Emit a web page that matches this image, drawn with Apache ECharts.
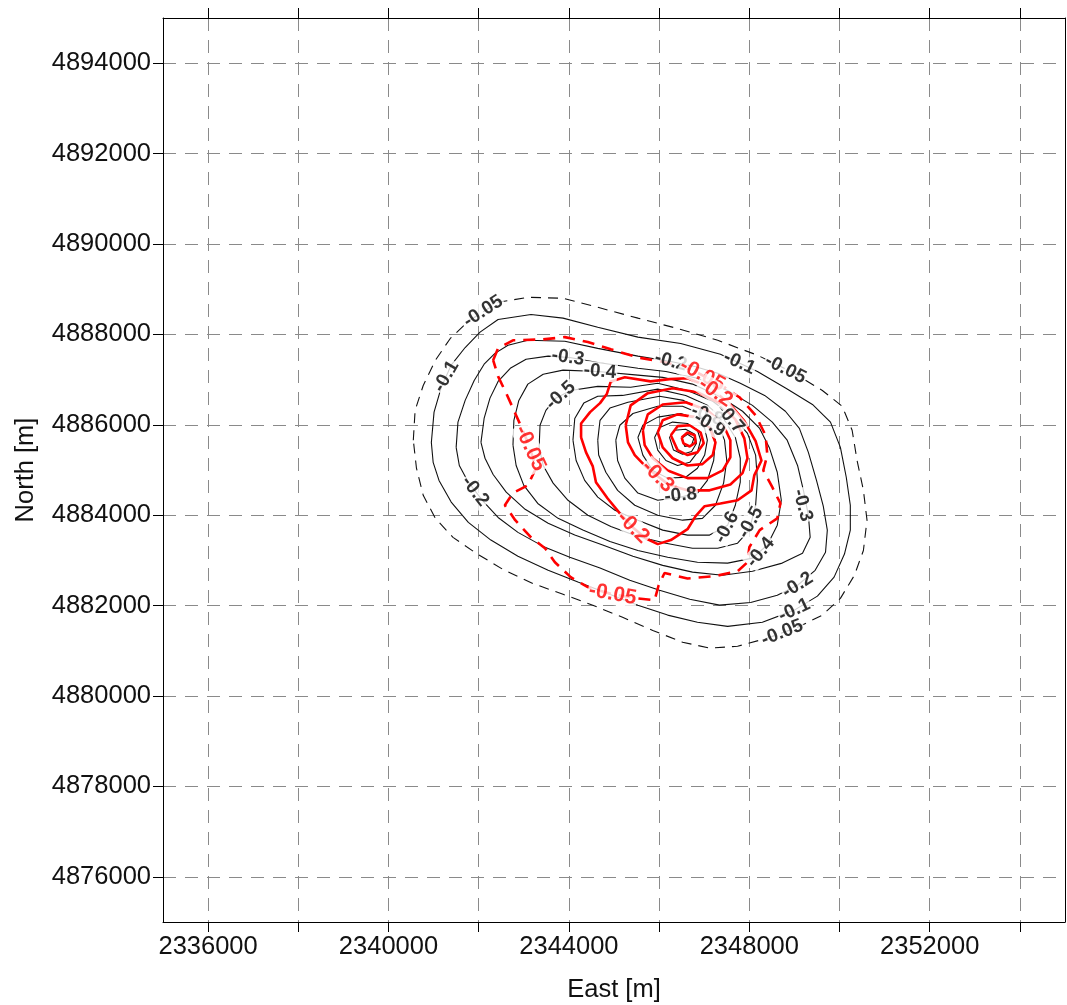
<!DOCTYPE html>
<html>
<head>
<meta charset="utf-8">
<script src="https://cdn.jsdelivr.net/npm/echarts@6/dist/echarts.min.js"></script>
<style>
  html, body { margin: 0; padding: 0; background: #fff; }
  #chart { width: 1067px; height: 1005px; }
</style>
</head>
<body>
<div id="chart"></div>
<script>
// Axis ticks and tick labels (metres)
const eastTicks = [2336000, 2338000, 2340000, 2342000, 2344000, 2346000, 2348000, 2350000, 2352000, 2354000];
const eastTickLabels = [2336000, 2340000, 2344000, 2348000, 2352000];
const northTicks = [4876000, 4878000, 4880000, 4882000, 4884000, 4886000, 4888000, 4890000, 4892000, 4894000];

// Black field: contour levels and closed contour rings [East, North]
const blackLevels = [-0.05, -0.1, -0.2, -0.3, -0.4, -0.5, -0.6, -0.7, -0.8, -0.9, -1.0, -1.1, -1.2];

const black005 = [[2340550,4885660],[2340590,4886320],[2340770,4886870],[2341040,4887430],[2341370,4887910],[2341770,4888290],[2342430,4888710],[2343090,4888820],[2343870,4888800],[2344640,4888600],[2345530,4888360],[2346410,4888130],[2347300,4887870],[2348180,4887540],[2348960,4887160],[2349620,4886760],[2350060,4886410],[2350280,4885880],[2350390,4885210],[2350530,4884550],[2350610,4883890],[2350530,4883220],[2350330,4882670],[2350020,4882160],[2349620,4881790],[2349070,4881520],[2348400,4881280],[2347740,4881100],[2347120,4881060],[2346520,4881190],[2345860,4881450],[2345190,4881740],[2344530,4882010],[2343870,4882250],[2343200,4882490],[2342540,4882800],[2341940,4883160],[2341430,4883510],[2341040,4883930],[2340770,4884440],[2340620,4885040]];
const black01 = [[2340950,4885610],[2341010,4886280],[2341170,4886830],[2341390,4887320],[2341700,4887710],[2342030,4888050],[2342430,4888330],[2343160,4888440],[2343870,4888360],[2344640,4888160],[2345530,4887940],[2346480,4887800],[2347360,4887560],[2348180,4887180],[2348840,4886790],[2349400,4886450],[2349800,4886060],[2350020,4885500],[2350150,4884840],[2350240,4884220],[2350240,4883670],[2350110,4883140],[2349880,4882630],[2349510,4882210],[2349000,4881900],[2348290,4881630],[2347520,4881540],[2346850,4881630],[2346190,4881790],[2345530,4882010],[2344860,4882270],[2344200,4882520],[2343540,4882780],[2342870,4883090],[2342270,4883450],[2341770,4883840],[2341390,4884290],[2341120,4884770],[2340990,4885170]];
const black02 = [[2341500,4885500],[2341540,4886060],[2341700,4886540],[2341900,4886980],[2342120,4887340],[2342360,4887580],[2342650,4887760],[2343090,4887870],[2343910,4887850],[2344640,4887690],[2345530,4887520],[2346260,4887400],[2346790,4887290],[2347300,4887140],[2347800,4886920],[2348340,4886650],[2348800,4886300],[2349110,4885920],[2349310,4885390],[2349490,4884770],[2349640,4884200],[2349730,4883670],[2349690,4883180],[2349460,4882780],[2349070,4882450],[2348620,4882230],[2348030,4882070],[2347340,4882010],[2346680,4882140],[2346010,4882340],[2345350,4882560],[2344690,4882830],[2344020,4883070],[2343430,4883310],[2342870,4883620],[2342430,4883950],[2342080,4884330],[2341770,4884730],[2341570,4885100]];
const black03 = [[2342050,4885610],[2342120,4886140],[2342250,4886590],[2342430,4886960],[2342700,4887250],[2343050,4887450],[2343540,4887520],[2344020,4887490],[2344640,4887380],[2345530,4887250],[2346150,4887180],[2346850,4887030],[2347520,4886760],[2348070,4886430],[2348510,4886060],[2348840,4885660],[2349070,4885100],[2349200,4884550],[2349310,4884000],[2349350,4883510],[2349180,4883160],[2348730,4882940],[2348070,4882760],[2347410,4882670],[2346740,4882740],[2346080,4882890],[2345420,4883090],[2344750,4883340],[2344130,4883560],[2343540,4883820],[2343030,4884130],[2342610,4884510],[2342320,4884900],[2342140,4885260]];
const black04 = [[2342760,4885550],[2342780,4886100],[2342890,4886540],[2343090,4886900],[2343430,4887120],[2343870,4887210],[2344640,4887180],[2345530,4887100],[2346080,4887050],[2346740,4886900],[2347340,4886630],[2347850,4886300],[2348230,4885920],[2348450,4885480],[2348620,4884950],[2348710,4884330],[2348620,4883780],[2348400,4883340],[2348070,4883050],[2347520,4882940],[2346850,4882960],[2346190,4883070],[2345530,4883220],[2344910,4883420],[2344310,4883670],[2343760,4883930],[2343310,4884260],[2343000,4884660],[2342830,4885100]];
const black05 = [[2343340,4885500],[2343360,4885990],[2343490,4886320],[2343710,4886590],[2344040,4886760],[2344640,4886850],[2345370,4886830],[2345970,4886920],[2346630,4886760],[2347190,4886520],[2347630,4886190],[2347960,4885810],[2348140,4885330],[2348180,4884770],[2348140,4884220],[2348000,4883670],[2347740,4883380],[2347300,4883270],[2346740,4883270],[2346150,4883380],[2345530,4883530],[2344930,4883750],[2344420,4884000],[2343980,4884330],[2343650,4884710],[2343430,4885100]];
const black06 = [[2344090,4885660],[2344130,4886140],[2344330,4886480],[2344640,4886630],[2345190,4886650],[2345970,4886790],[2346590,4886650],[2347070,4886430],[2347450,4886100],[2347690,4885720],[2347800,4885260],[2347800,4884730],[2347690,4884220],[2347520,4883780],[2347120,4883560],[2346630,4883560],[2346080,4883670],[2345530,4883890],[2345020,4884110],[2344640,4884400],[2344350,4884770],[2344160,4885210]];
const black07 = [[2344640,4885660],[2344690,4886100],[2344910,4886370],[2345310,4886500],[2346010,4886630],[2346540,4886540],[2346990,4886320],[2347300,4886030],[2347450,4885660],[2347500,4885210],[2347430,4884710],[2347250,4884220],[2346960,4883930],[2346520,4883890],[2345970,4884000],[2345460,4884220],[2345080,4884550],[2344820,4884950],[2344660,4885330]];
const black08 = [[2345040,4885660],[2345130,4885990],[2345420,4886250],[2345970,4886410],[2346520,4886410],[2346900,4886250],[2347140,4885990],[2347250,4885660],[2347210,4885210],[2347070,4884770],[2346850,4884490],[2346480,4884400],[2345970,4884330],[2345530,4884490],[2345240,4884820],[2345080,4885210]];
const black09 = [[2345530,4885720],[2345640,4885990],[2345970,4886170],[2346480,4886250],[2346810,4886140],[2347010,4885920],[2347070,4885660],[2347010,4885330],[2346850,4885040],[2346590,4884840],[2346190,4884820],[2345860,4884990],[2345640,4885330]];
const black10 = [[2345900,4885720],[2346010,4885940],[2346300,4886060],[2346630,4886030],[2346850,4885880],[2346920,4885660],[2346850,4885390],[2346680,4885170],[2346410,4885100],[2346150,4885210],[2345970,4885440]];
const black11 = [[2346230,4885720],[2346340,4885880],[2346590,4885900],[2346790,4885790],[2346830,4885590],[2346720,4885410],[2346520,4885350],[2346320,4885440]];
const black12 = [[2346500,4885700],[2346630,4885790],[2346770,4885700],[2346720,4885550],[2346570,4885520]];

// Red field: contour levels and closed contour rings [East, North]
const redLevels = [-0.05, -0.2, -0.3, -0.4, -0.5, -0.6, -0.7];

const red005 = [[2342320,4887430],[2342430,4887690],[2342760,4887870],[2343430,4887890],[2343910,4887940],[2344420,4887830],[2344930,4887670],[2345530,4887490],[2346150,4887380],[2346740,4887210],[2347300,4886920],[2347780,4886610],[2348140,4886210],[2348360,4885770],[2348400,4885330],[2348310,4884990],[2348510,4884620],[2348690,4884260],[2348620,4883930],[2348230,4883670],[2348000,4883290],[2347960,4882960],[2347740,4882760],[2347230,4882650],[2346630,4882600],[2346120,4882720],[2345990,4882450],[2345900,4882120],[2345530,4882160],[2344970,4882250],[2344420,4882410],[2344040,4882630],[2343690,4882960],[2343470,4883270],[2343160,4883510],[2342810,4883890],[2342580,4884220],[2342760,4884490],[2343090,4884660],[2343270,4885040],[2343140,4885480],[2342960,4885920],[2342780,4886320],[2342610,4886700],[2342430,4887070]];
const red02 = [[2344270,4885720],[2344270,4886030],[2344470,4886280],[2344690,4886480],[2344840,4886680],[2344930,4886960],[2345240,4887050],[2345810,4886960],[2346230,4887010],[2346630,4887030],[2346960,4886900],[2347250,4886720],[2347580,4886450],[2347890,4886080],[2348140,4885640],[2348270,4885210],[2348110,4884880],[2348050,4884550],[2347740,4884330],[2347360,4884260],[2347010,4884200],[2346810,4883980],[2346630,4883690],[2346260,4883450],[2345970,4883360],[2345700,4883490],[2345420,4883730],[2345130,4884040],[2344860,4884370],[2344600,4884730],[2344530,4885080],[2344380,4885390]];
const red03 = [[2345260,4885990],[2345370,4886430],[2345750,4886700],[2346300,4886810],[2346850,4886720],[2347340,4886480],[2347690,4886120],[2347890,4885700],[2347960,4885260],[2347850,4884930],[2347580,4884680],[2347120,4884550],[2346630,4884550],[2346230,4884660],[2345970,4884860],[2345700,4885080],[2345460,4885330],[2345310,4885610]];
const red04 = [[2345640,4885880],[2345750,4886230],[2346080,4886450],[2346590,4886500],[2347070,4886320],[2347410,4886030],[2347580,4885660],[2347580,4885280],[2347410,4884990],[2347070,4884820],[2346630,4884820],[2346190,4884990],[2345860,4885260],[2345680,4885550]];
const red05 = [[2345970,4885830],[2346080,4886100],[2346410,4886230],[2346810,4886170],[2347120,4885940],[2347250,4885610],[2347190,4885330],[2346960,4885130],[2346630,4885100],[2346300,4885260],[2346080,4885500]];
const red06 = [[2346260,4885770],[2346410,4885970],[2346680,4885990],[2346920,4885830],[2346990,4885590],[2346850,4885390],[2346630,4885330],[2346410,4885440]];
const red07 = [[2346500,4885720],[2346630,4885830],[2346790,4885770],[2346810,4885610],[2346680,4885520],[2346540,4885590]];

// Contour labels: [level, East, North]
const blackLabels = [
  [-0.05, 2342100, 4888510], [-0.1, 2341280, 4887070], [-0.3, 2343980, 4887490], [-0.4, 2344690, 4887180],
  [-0.5, 2343820, 4886650], [-0.2, 2346260, 4887400], [-0.1, 2347780, 4887370], [-0.05, 2348800, 4887230],
  [-0.8, 2347070, 4886210], [-0.9, 2347120, 4886010], [-0.7, 2347580, 4886140], [-0.8, 2346480, 4884440],
  [-0.6, 2347500, 4883730], [-0.5, 2348030, 4883840], [-0.4, 2348250, 4883180], [-0.3, 2349180, 4884220],
  [-0.2, 2349070, 4882450], [-0.1, 2349000, 4881900], [-0.05, 2348730, 4881400], [-0.2, 2341920, 4884530]
];
const redLabels = [
  [-0.05, 2343140, 4885480], [-0.05, 2344970, 4882250], [-0.05, 2346960, 4887100],
  [-0.2, 2347250, 4886720], [-0.2, 2345420, 4883730], [-0.3, 2345970, 4884860]
];

// Label tilt (degrees, counter-clockwise), following the contour direction
const blackLabelTilt = [33, 60, -8, -5, 42, -15, -25, -27, -20, -30, -50, 6, 62, 60, 50, -75, 32, 25, 22, -52];
const redLabelTilt = [-65, -10, -28, -35, -45, -45];

const FONT = '"Liberation Sans", Arial, Helvetica, sans-serif';
const blackRings = [black005, black01, black02, black03, black04, black05, black06, black07, black08, black09, black10, black11, black12];
const redRings = [red005, red02, red03, red04, red05, red06, red07];

function closeRing(pts) { return pts.concat([pts[0]]); }

const series = [];
blackRings.forEach(function (pts, i) {
  series.push({
    type: 'line', name: 'black ' + blackLevels[i], data: closeRing(pts),
    symbol: 'none', silent: true, z: 2, clip: true,
    lineStyle: { color: '#111', width: 1.1, type: blackLevels[i] === -0.05 ? [10, 7] : 'solid' }
  });
});
redRings.forEach(function (pts, i) {
  series.push({
    type: 'line', name: 'red ' + redLevels[i], data: closeRing(pts),
    symbol: 'none', silent: true, z: 3, clip: true,
    lineStyle: { color: '#ff0000', width: 2.6, type: redLevels[i] === -0.05 ? [12, 8] : 'solid' }
  });
});

function labelSeries(list, tilt, color, size, z) {
  return {
    type: 'scatter', symbolSize: 0, silent: true, z: z,
    data: list.map(function (l, i) {
      return { name: String(l[0]), value: [l[1], l[2]], label: { rotate: tilt[i] } };
    }),
    label: {
      show: true, position: 'inside', formatter: '{b}',
      color: color, fontSize: size, fontWeight: 'bold', fontFamily: FONT,
      backgroundColor: '#fff', padding: [0, 1]
    }
  };
}
series.push(labelSeries(blackLabels, blackLabelTilt, '#000', 19, 5));
series.push(labelSeries(redLabels, redLabelTilt, '#ff0000', 21, 6));

const axisText = { fontSize: 25.5, color: '#111', fontFamily: FONT };
const gridDash = { color: '#8a8a8a', width: 1, type: [13, 9] };

const chart = echarts.init(document.getElementById('chart'), null, { renderer: 'canvas' });
chart.setOption({
  animation: false,
  backgroundColor: '#fff',
  grid: { left: 163, top: 18, width: 902, height: 904, outerBoundsMode: 'none', containLabel: false },
  xAxis: [{
    type: 'value', min: 2335000, max: 2355000, splitNumber: 10, position: 'bottom',
    axisLine: { show: true, onZero: false, lineStyle: { color: '#000', width: 1 } },
    axisTick: { show: true, inside: false, length: 10, lineStyle: { color: '#000' }, customValues: eastTicks },
    axisLabel: Object.assign({ customValues: eastTickLabels, margin: 12, formatter: function (v) { return String(v); } }, axisText),
    splitLine: { show: true, lineStyle: gridDash },
    name: 'East [m]', nameLocation: 'middle', nameGap: 55, nameTextStyle: axisText
  }, {
    type: 'value', min: 2335000, max: 2355000, splitNumber: 10, position: 'top',
    axisLine: { show: true, onZero: false, lineStyle: { color: '#000', width: 1 } },
    axisTick: { show: true, inside: false, length: 10, lineStyle: { color: '#000' }, customValues: eastTicks },
    axisLabel: { show: false }, splitLine: { show: false }
  }],
  yAxis: [{
    type: 'value', min: 4875000, max: 4895000, splitNumber: 10, position: 'left',
    axisLine: { show: true, onZero: false, lineStyle: { color: '#000', width: 1 } },
    axisTick: { show: true, inside: false, length: 10, lineStyle: { color: '#000' }, customValues: northTicks },
    axisLabel: Object.assign({ customValues: northTicks, margin: 12, formatter: function (v) { return String(v); } }, axisText),
    splitLine: { show: true, lineStyle: gridDash },
    name: 'North [m]', nameLocation: 'middle', nameGap: 124, nameRotate: 90, nameTextStyle: axisText
  }, {
    type: 'value', min: 4875000, max: 4895000, splitNumber: 10, position: 'right',
    axisLine: { show: true, onZero: false, lineStyle: { color: '#000', width: 1 } },
    axisTick: { show: false }, axisLabel: { show: false }, splitLine: { show: false }
  }],
  series: series
});
</script>
</body>
</html>
